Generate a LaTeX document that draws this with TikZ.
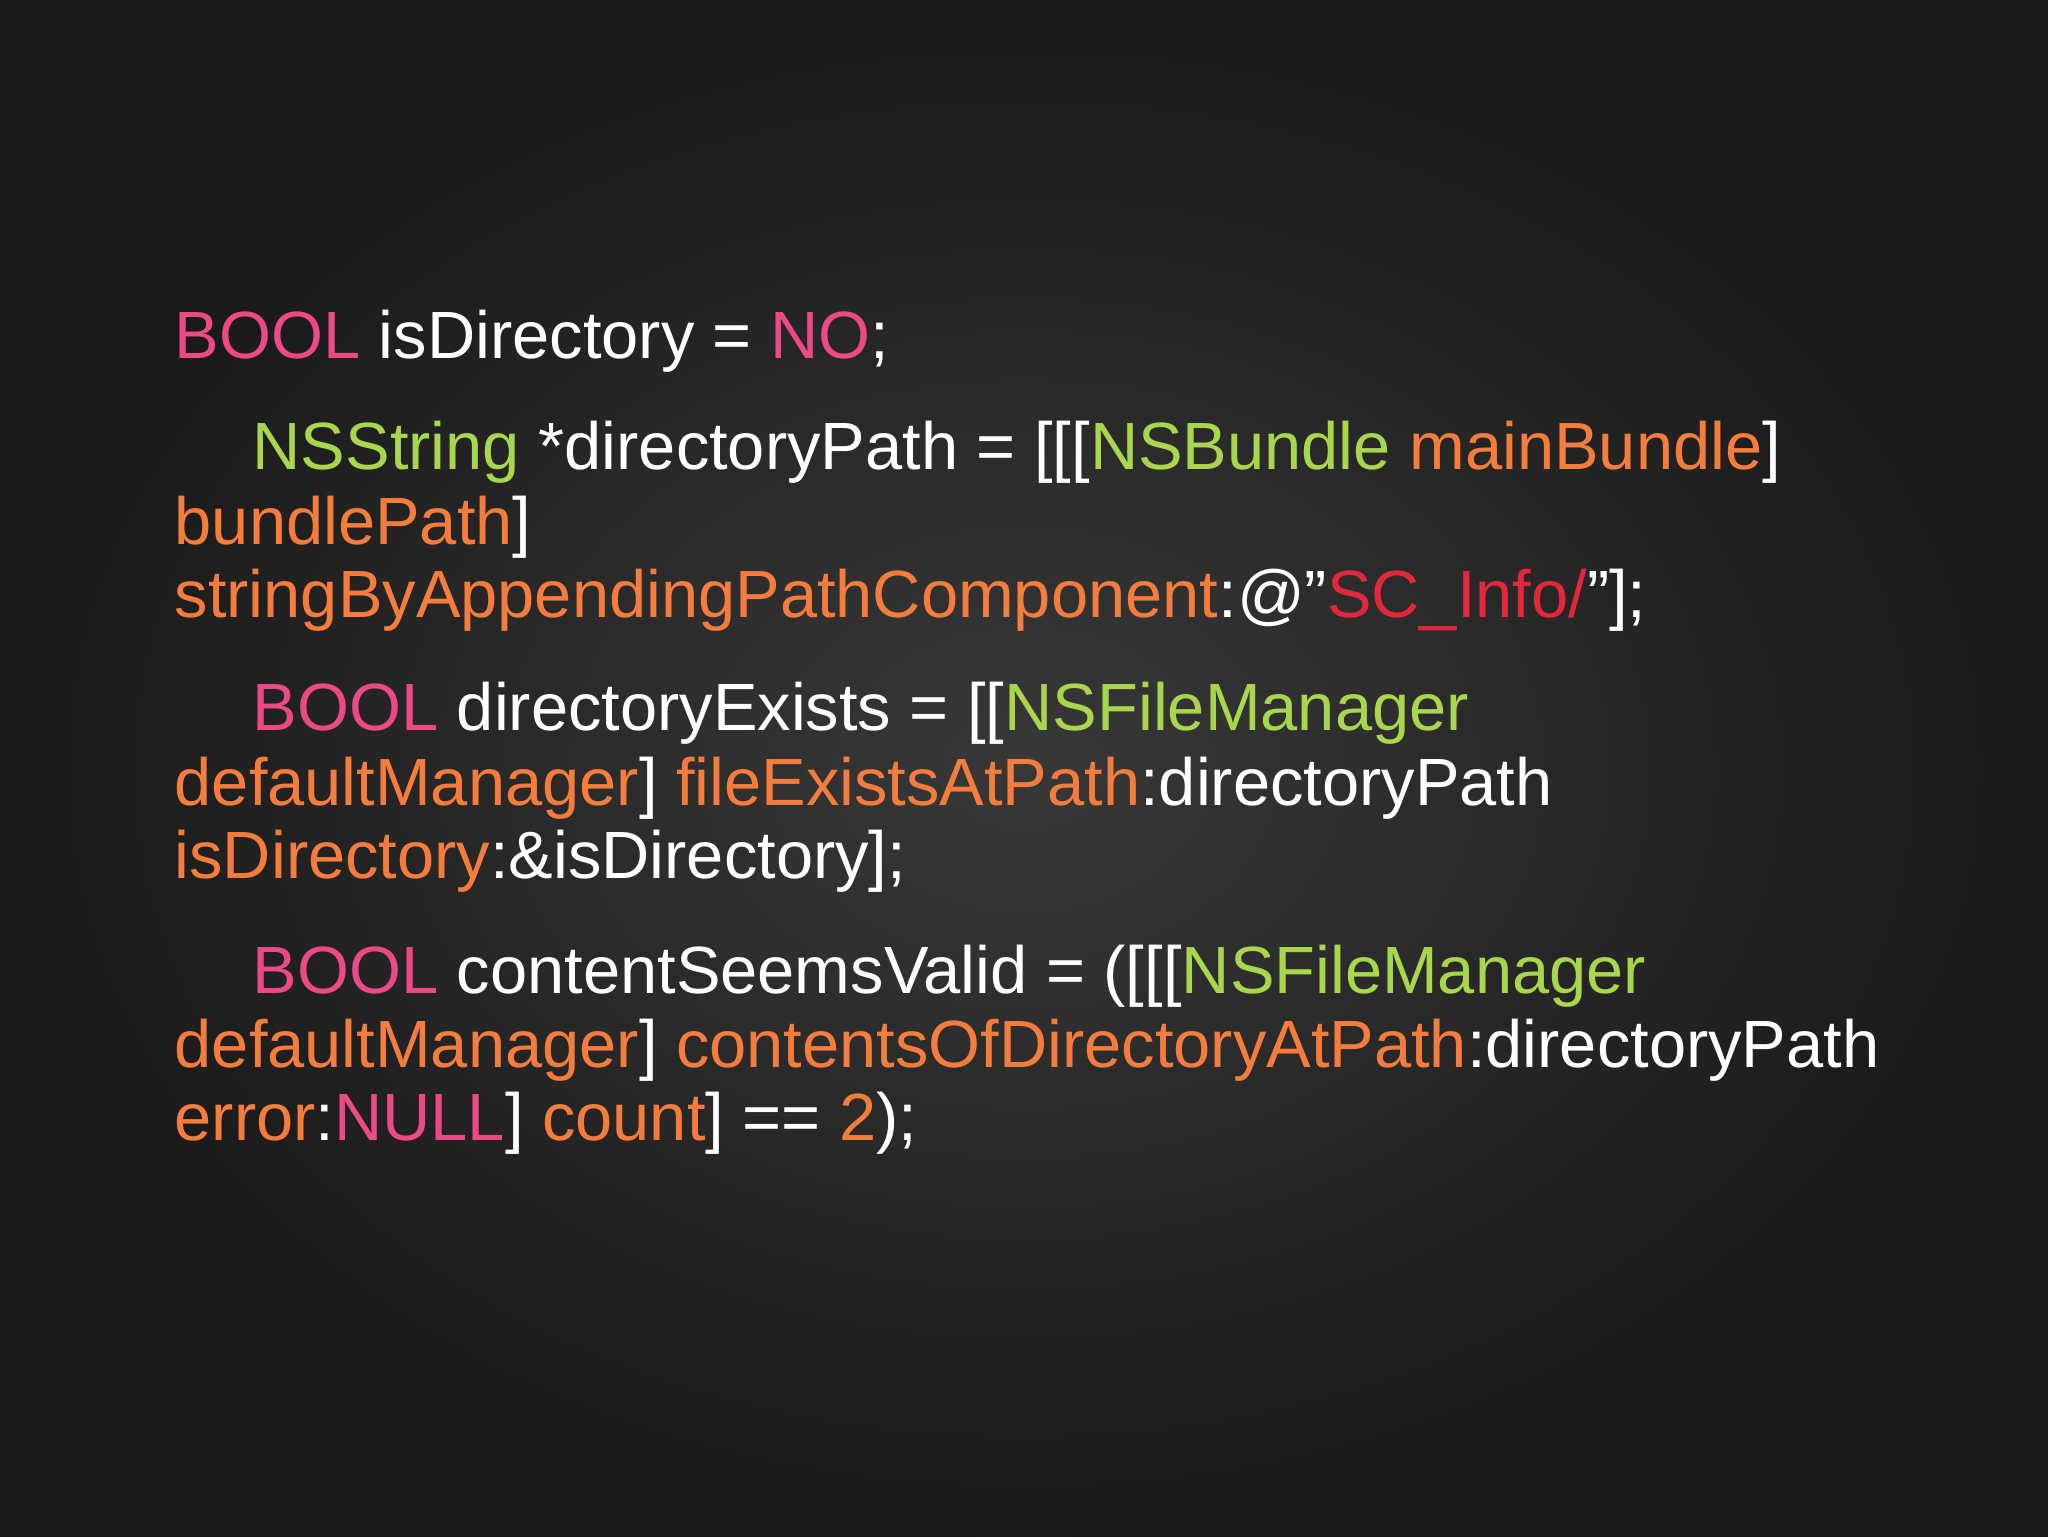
\documentclass[tikz,border=0pt]{standalone}
\usepackage{fontspec}
\setmainfont{Liberation Sans}
\definecolor{kw}{HTML}{EC4A86}
\definecolor{cl}{HTML}{A8D64C}
\definecolor{me}{HTML}{F47C3C}
\definecolor{st}{HTML}{E4283C}
\begin{document}
\begin{tikzpicture}[x=0.01cm,y=-0.01cm,
  code/.style={anchor=base west,inner sep=0pt,text=white,font=\fontsize{19pt}{23pt}\selectfont}]
\shade[inner color=black!78,outer color=black!90] (0,0) rectangle (2048,1537);
\useasboundingbox (0,0) rectangle (2048,1537);
\newcommand\K[1]{\textcolor{kw}{#1}}
\newcommand\C[1]{\textcolor{cl}{#1}}
\newcommand\M[1]{\textcolor{me}{#1}}
\newcommand\Sq[1]{\textcolor{st}{#1}}
\node[code] (l1) at (174,359) {\K{BOOL} isDirectory = \K{NO};};
\node[code] (l2) at (252,470) {\C{NSString} *directoryPath = [[[\C{NSBundle} \M{mainBundle}]};
\node[code] (l3) at (174,545) {\M{bundlePath}]};
\node[code] (l4) at (174,618) {\M{stringByAppendingPathComponent}:@”\Sq{SC\_Info/}”];};
\node[code] (l5) at (252,731) {\K{BOOL} directoryExists = [[\C{NSFileManager}};
\node[code] (l6) at (174,806) {\M{defaultManager}] \M{fileExistsAtPath}:directoryPath};
\node[code] (l7) at (174,879) {\M{isDirectory}:\&isDirectory];};
\node[code] (l8) at (252,993) {\K{BOOL} contentSeemsValid = ([[[\C{NSFileManager}};
\node[code] (l9) at (174,1067) {\M{defaultManager}] \M{contentsOfDirectoryAtPath}:directoryPath};
\node[code] (l10) at (174,1140) {\M{error}:\K{NULL}] \M{count}] == \M{2});};
\end{tikzpicture}
\end{document}
